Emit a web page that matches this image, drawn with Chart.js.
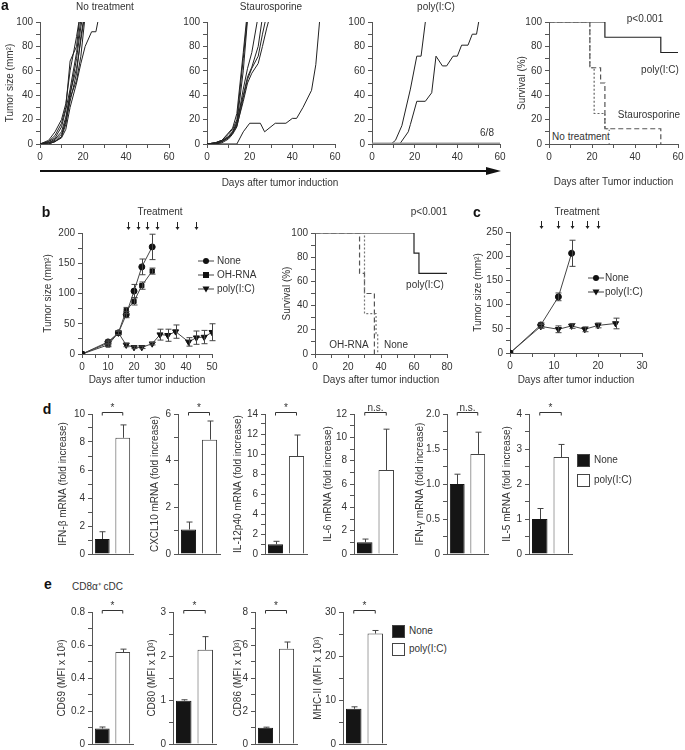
<!DOCTYPE html>
<html>
<head>
<meta charset="utf-8">
<script src="https://cdn.jsdelivr.net/npm/chart.js@4.4.1/dist/chart.umd.min.js"></script>
<style>
  body { margin: 0; background: #fff; width: 685px; height: 750px; position: relative; overflow: hidden;
         font-family: "Liberation Sans", Arial, sans-serif; color: #333; }
  canvas { position: absolute; }
  .t { position: absolute; font-size: 10px; white-space: nowrap; transform: translate(-50%, -50%); line-height: 1; z-index: 2; }
  .l { position: absolute; font-size: 10px; white-space: nowrap; transform: translateY(-50%); line-height: 1; z-index: 2; }
  .p { position: absolute; font-size: 14px; font-weight: bold; color: #111; transform: translate(-50%, -50%); line-height: 1; z-index: 2; }
  .sq { position: absolute; width: 11px; height: 11px; border: 1px solid #444; z-index: 2; }
  svg { position: absolute; z-index: 2; }
</style>
</head>
<body>
<script>
// ---------- panel a: individual tumour growth (mm2) ----------
const aNoTxDays = [0, 4, 7, 10, 12, 14, 17, 19, 21, 24, 26, 28];
const aNoTx1 = [0, 3, 10, 20, 33, 60, 88, 110];
const aNoTx2 = [0, 2, 7, 17, 30, 68, 80, 112];
const aNoTx3 = [0, 2, 5, 14, 28, 45, 75, 102];
const aNoTx4 = [0, 1, 4, 10, 22, 40, 70, 96, 115];
const aNoTx5 = [0, 1, 3, 8, 18, 35, 58, 88, 110];
const aNoTx6 = [0, 1, 2, 6, 16, 38, 52, 72, 105];
const aNoTx7 = [0, 0, 2, 5, 12, 30, 50, 66, 80, 92, 92, 110];
const aNoTx8 = [0, 0, 2, 6, 20, 42, 62, 85, 108];

const aStauroDays = [0, 4, 7, 10, 12, 14, 17, 19, 21, 24, 26, 28, 30];
const aStauro1 = [0, 1, 3, 8, 12, 20, 70, 105];
const aStauro2 = [0, 1, 2, 6, 10, 17, 60, 102];
const aStauro3 = [0, 1, 3, 9, 13, 25, 75, 110];
const aStauro4 = [0, 0, 2, 5, 9, 16, 45, 62, 75, 105];
const aStauro5 = [0, 1, 3, 6, 10, 18, 40, 55, 63, 80, 104];
const aStauro6 = [0, 0, 2, 5, 9, 15, 35, 50, 58, 66, 80, 95, 108];
const aStauro7 = [0, 0, 1, 4, 8, 14, 38, 53, 62, 72, 90, 106];
const aStauroSlowDays = [0, 14, 17, 20, 25, 27, 32, 37, 40, 42, 45, 49, 51, 53];
const aStauroSlow = [0, 0, 10, 17, 17, 10, 17, 17, 21, 21, 30, 44, 65, 105];

const aPolyDays1 = [0, 9, 11, 14, 18, 21, 23, 25];
const aPoly1 = [0, 0, 3, 15, 45, 72, 72, 100];
const aPolyDays2 = [0, 13, 17, 18, 21, 25, 28, 30, 33, 35, 38, 40, 42, 45, 47, 49, 50];
const aPoly2 = [0, 0, 10, 16, 35, 35, 42, 72, 64, 64, 72, 72, 81, 81, 90, 90, 100];
const aPolyFlatDays = [0, 60];
const aPolyFlat = [0, 0];

// ---------- panel a: survival (%) ----------
const survADaysPoly = [0, 26, 52, 60];
const survAPoly = [100, 87.5, 75, 75];
const survADaysStauro = [0, 19, 24, 26, 52];
const survAStauro = [100, 62.5, 50, 12.5, 0];
const survADaysNone = [0, 19, 21, 26, 28];
const survANone = [100, 62.5, 25, 12.5, 0];

// ---------- panel b ----------
const bDaysCtrl = [0, 10, 14, 17, 20, 23, 27];
const bNone = [0, 20, 35, 65, 104, 144, 177];
const bNoneErr = [0, 3, 3, 5, 11, 13, 21];
const bOHRNA = [0, 15, 35, 72, 87, 113, 137];
const bOHRNAErr = [0, 3, 3, 5, 6, 6, 5];
const bDaysPoly = [0, 10, 14, 17, 20, 23, 27, 30, 33, 36, 41, 44, 47, 50];
const bPoly = [0, 18, 35, 15, 11, 11, 17, 32, 31, 37, 20, 27, 28, 36];
const bPolyErr = [0, 3, 3, 3, 2, 2, 2, 9, 10, 11, 7, 11, 11, 14];
const bTreatDays = [17.5, 21.5, 25, 29, 36.5, 44];

const survBDaysPoly = [0, 60, 63, 80];
const survBPoly = [100, 83.3, 66.7, 66.7];
const survBDaysOHRNA = [0, 27, 30, 36];
const survBOHRNA = [100, 66.7, 50, 0];
const survBDaysNone = [0, 30, 37, 38];
const survBNone = [100, 33.3, 16.7, 0];

// ---------- panel c ----------
const cDaysNone = [0, 7, 11, 14];
const cNone = [0, 58, 116, 206];
const cNoneErr = [0, 4, 8, 27];
const cDaysPoly = [0, 7, 11, 14, 17, 20, 24];
const cPoly = [0, 55, 49, 56, 49, 57, 61];
const cPolyErr = [0, 4, 7, 5, 5, 5, 11];
const cTreatDays = [7, 11, 14, 17.5, 20];

// ---------- panel d (fold increase) ----------
const groups = ['None', 'poly(I:C)'];
const ifnb = [1.07, 8.3];      const ifnbErr = [0.52, 0.92];
const cxcl10 = [1.05, 4.9];    const cxcl10Err = [0.32, 0.8];
const il12p40 = [0.97, 9.8];   const il12p40Err = [0.3, 2.1];
const il6 = [1.0, 7.2];        const il6Err = [0.28, 3.5];
const ifng = [1.0, 1.43];      const ifngErr = [0.14, 0.31];
const il5 = [1.0, 2.77];       const il5Err = [0.3, 0.36];

// ---------- panel e (MFI x 10^3) ----------
const cd69 = [0.094, 0.557];   const cd69Err = [0.009, 0.018];
const cd80 = [0.985, 2.14];    const cd80Err = [0.02, 0.3];
const cd86 = [0.98, 5.78];     const cd86Err = [0.04, 0.4];
const mhc2 = [8.0, 25.1];      const mhc2Err = [0.45, 0.7];

// ================= drawing =================
const AXIS = '#555';
Chart.defaults.font.family = '"Liberation Sans", Arial, sans-serif';
Chart.defaults.font.size = 10;
Chart.defaults.color = '#333';
Chart.defaults.animation = false;
Chart.defaults.plugins.legend.display = false;
Chart.defaults.plugins.tooltip.enabled = false;

const xy = (days, vals) => vals.map((v, i) => ({x: days[i], y: v}));

const errorBars = {
  id: 'errorBars',
  afterDatasetsDraw(chart) {
    const ctx = chart.ctx;
    chart.data.datasets.forEach((ds, i) => {
      if (!ds.errors) return;
      const meta = chart.getDatasetMeta(i);
      const ys = chart.scales[meta.yAxisID];
      ctx.save();
      ctx.strokeStyle = ds.errColor || '#444';
      ctx.lineWidth = 1;
      meta.data.forEach((el, j) => {
        const e = ds.errors[j];
        if (!e) return;
        const raw = ds.data[j];
        const v = typeof raw === 'object' ? raw.y : raw;
        const x = Math.round(el.x) + 0.5;
        const yT = ys.getPixelForValue(v + e);
        const yB = ds.upOnly ? el.y : ys.getPixelForValue(v - e);
        ctx.beginPath();
        ctx.moveTo(x, yB); ctx.lineTo(x, yT);
        ctx.moveTo(x - 3, yT); ctx.lineTo(x + 3, yT);
        if (!ds.upOnly) { ctx.moveTo(x - 3, yB); ctx.lineTo(x + 3, yB); }
        ctx.stroke();
      });
      ctx.restore();
    });
  }
};

const sigBracket = {
  id: 'sig',
  afterDraw(chart, args, opts) {
    if (!opts.text) return;
    const ctx = chart.ctx;
    const meta = chart.getDatasetMeta(0);
    const x0 = meta.data[0].x, x1 = meta.data[1].x;
    const y = chart.chartArea.top - 1.5;
    ctx.save();
    ctx.strokeStyle = '#333'; ctx.lineWidth = 1;
    ctx.beginPath();
    ctx.moveTo(x0, y + 3); ctx.lineTo(x0, y); ctx.lineTo(x1, y); ctx.lineTo(x1, y + 3);
    ctx.stroke();
    ctx.fillStyle = '#333';
    ctx.font = '10px "Liberation Sans", Arial, sans-serif';
    ctx.textAlign = 'center'; ctx.textBaseline = 'alphabetic';
    ctx.fillText(opts.text, (x0 + x1) / 2, y - 1.5);
    ctx.restore();
  }
};

const treatArrows = {
  id: 'treat',
  afterDraw(chart, args, opts) {
    if (!opts.days) return;
    const ctx = chart.ctx, xs = chart.scales.x, top = chart.chartArea.top;
    ctx.save();
    ctx.strokeStyle = '#222'; ctx.fillStyle = '#222'; ctx.lineWidth = 1;
    opts.days.forEach(d => {
      const px = Math.round(xs.getPixelForValue(d)) + 0.5;
      ctx.beginPath(); ctx.moveTo(px, top - 11); ctx.lineTo(px, top - 5); ctx.stroke();
      ctx.beginPath(); ctx.moveTo(px - 2, top - 6); ctx.lineTo(px + 2, top - 6); ctx.lineTo(px, top - 3); ctx.closePath(); ctx.fill();
    });
    ctx.restore();
  }
};

function linAxis(min, max, step, every, title, fmt) {
  return {
    type: 'linear', min: min, max: max,
    grid: {display: true, drawOnChartArea: false, drawTicks: true, tickLength: 4, color: AXIS},
    border: {display: true, color: AXIS, width: 1},
    ticks: {
      stepSize: step, autoSkip: false, padding: 3, maxRotation: 0, color: '#333',
      callback: v => (Math.abs(v / every - Math.round(v / every)) < 1e-6
        ? (fmt ? fmt(v) : String(Math.round(v * 100) / 100)) : '')
    },
    title: title ? {display: true, text: title, padding: 0, color: '#333'} : {display: false}
  };
}

function barX() {
  return {
    type: 'category', offset: true,
    grid: {display: true, drawOnChartArea: false, drawTicks: false},
    border: {display: true, color: AXIS, width: 1},
    ticks: {display: false}
  };
}

function makeChart(box, config) {
  const padTop = box.padTop != null ? box.padTop : 12;
  const padRight = box.padRight != null ? box.padRight : 10;
  const left = box.yTitleX != null ? box.yTitleX - 6 : box.l - 30;
  const top = box.t - padTop;
  const bottom = box.xTitleY != null ? box.xTitleY + 6 : box.b + (box.xh != null ? box.xh : 22);
  const w = box.r + padRight - left, h = bottom - top;
  const cv = document.createElement('canvas');
  cv.width = w; cv.height = h;
  cv.style.left = left + 'px'; cv.style.top = top + 'px';
  cv.style.width = w + 'px'; cv.style.height = h + 'px';
  document.body.appendChild(cv);
  const o = config.options;
  o.responsive = false;
  o.devicePixelRatio = 1;
  o.layout = {padding: {top: padTop, right: padRight, left: 0, bottom: 0}};
  o.scales.x.afterFit = s => { s.height = bottom - box.b; };
  o.scales.y.afterFit = s => { s.width = box.l - left; };
  return new Chart(cv.getContext('2d'), config);
}

function thin(days, vals, color, width) {
  return {data: xy(days, vals), borderColor: color || '#222', borderWidth: width || 1,
          pointRadius: 0, tension: 0, fill: false};
}

function growth(box, yTitle, sets) {
  makeChart(box, {
    type: 'line',
    data: {datasets: sets},
    options: {scales: {x: linAxis(0, 60, 10, 20), y: linAxis(0, 100, 10, 20, yTitle)}}
  });
}

growth({l: 40, r: 169, t: 22, b: 144, yTitleX: 10}, 'Tumor size (mm²)',
  [aNoTx1, aNoTx2, aNoTx3, aNoTx4, aNoTx5, aNoTx6, aNoTx7, aNoTx8].map(m => thin(aNoTxDays, m)));
growth({l: 207, r: 335, t: 22, b: 144}, null,
  [aStauro1, aStauro2, aStauro3, aStauro4, aStauro5, aStauro6, aStauro7].map(m => thin(aStauroDays, m))
    .concat([thin(aStauroSlowDays, aStauroSlow)]));
growth({l: 372, r: 500, t: 22, b: 144}, null,
  [thin(aPolyFlatDays, aPolyFlat, '#999', 3), thin(aPolyDays1, aPoly1), thin(aPolyDays2, aPoly2)]);

function surv(days, vals, color, dash, width) {
  return {data: xy(days, vals), stepped: true, borderColor: color, borderDash: dash,
          borderWidth: width || 1.2, pointRadius: 0, fill: false};
}

makeChart({l: 549, r: 678, t: 22, b: 144, yTitleX: 522, xTitleY: 182}, {
  type: 'line',
  data: {datasets: [
    surv(survADaysNone, survANone, '#666', [2, 2]),
    surv(survADaysStauro, survAStauro, '#555', [5, 3]),
    surv(survADaysPoly, survAPoly, '#222', [])
  ]},
  options: {scales: {
    x: linAxis(0, 60, 10, 20, 'Days after Tumor induction'),
    y: linAxis(0, 100, 10, 20, 'Survival (%)')
  }}
});

function meanLine(days, vals, errs, style, rot, radius) {
  return {data: xy(days, vals), errors: errs, borderColor: '#444', borderWidth: 1, tension: 0,
          pointStyle: style, rotation: rot || 0, pointRadius: radius || 3,
          pointBackgroundColor: '#111', pointBorderColor: '#111', fill: false};
}

makeChart({l: 82, r: 212, t: 233, b: 354, yTitleX: 48, xTitleY: 380, padTop: 16}, {
  type: 'line',
  data: {datasets: [
    meanLine(bDaysPoly, bPoly, bPolyErr, 'triangle', 180, 3.5),
    meanLine(bDaysCtrl, bOHRNA, bOHRNAErr, 'rect', 0, 3),
    meanLine(bDaysCtrl, bNone, bNoneErr, 'circle', 0, 3)
  ]},
  options: {
    scales: {x: linAxis(0, 50, 5, 10, 'Days after tumor induction'),
             y: linAxis(0, 200, 25, 50, 'Tumor size (mm²)')},
    plugins: {treat: {days: bTreatDays}}
  },
  plugins: [errorBars, treatArrows]
});

makeChart({l: 315, r: 447, t: 233, b: 354, yTitleX: 287, xTitleY: 380}, {
  type: 'line',
  data: {datasets: [
    surv(survBDaysNone, survBNone, '#777', [2, 2]),
    surv(survBDaysOHRNA, survBOHRNA, '#555', [5, 3]),
    surv(survBDaysPoly, survBPoly, '#222', [])
  ]},
  options: {scales: {
    x: linAxis(0, 80, 10, 20, 'Days after tumor induction'),
    y: linAxis(0, 100, 10, 20, 'Survival (%)')
  }}
});

makeChart({l: 510, r: 642, t: 232, b: 353, yTitleX: 478, xTitleY: 380, padTop: 16}, {
  type: 'line',
  data: {datasets: [
    meanLine(cDaysPoly, cPoly, cPolyErr, 'triangle', 180, 3.5),
    meanLine(cDaysNone, cNone, cNoneErr, 'circle', 0, 3)
  ]},
  options: {
    scales: {x: linAxis(0, 30, 5, 10, 'Days after tumor induction'),
             y: linAxis(0, 250, 25, 50, 'Tumor size (mm²)')},
    plugins: {treat: {days: cTreatDays}}
  },
  plugins: [errorBars, treatArrows]
});

function barChart(box, yAxis, means, errs, sig) {
  box.padTop = 18; box.padRight = 2; box.xh = 10;
  makeChart(box, {
    type: 'bar',
    data: {labels: groups, datasets: [{
      data: means, errors: errs, upOnly: true, errColor: '#444',
      backgroundColor: ['#151515', '#ffffff'], borderColor: ['#151515', '#444'], borderWidth: 1,
      barPercentage: 0.72, categoryPercentage: 1
    }]},
    options: {scales: {x: barX(), y: yAxis}, plugins: {sig: {text: sig}}},
    plugins: [errorBars, sigBracket]
  });
}
const f1 = v => (v === 0 ? '0' : v.toFixed(1));

barChart({l: 92, r: 133, t: 414, b: 554, yTitleX: 63}, linAxis(0, 10, 1, 2, 'IFN-β mRNA (fold increase)'), ifnb, ifnbErr, '*');
barChart({l: 178, r: 220, t: 414, b: 554, yTitleX: 155}, linAxis(0, 6, 1, 2, 'CXCL10 mRNA (fold increase)'), cxcl10, cxcl10Err, '*');
barChart({l: 265, r: 307, t: 414, b: 554, yTitleX: 238}, linAxis(0, 14, 1, 2, 'IL-12p40 mRNA (fold increase)'), il12p40, il12p40Err, '*');
barChart({l: 354, r: 397, t: 414, b: 554, yTitleX: 328}, linAxis(0, 12, 1, 2, 'IL-6 mRNA (fold increase)'), il6, il6Err, 'n.s.');
barChart({l: 447, r: 488, t: 414, b: 554, yTitleX: 420}, linAxis(0, 2, 0.25, 0.5, 'IFN-γ mRNA (fold increase)', f1), ifng, ifngErr, 'n.s.');
barChart({l: 529, r: 572, t: 414, b: 554, yTitleX: 507}, linAxis(0, 4, 0.5, 1, 'IL-5 mRNA (fold increase)'), il5, il5Err, '*');

barChart({l: 92, r: 133, t: 612, b: 744, yTitleX: 62}, linAxis(0, 0.8, 0.1, 0.2, 'CD69 (MFI x 10³)'), cd69, cd69Err, '*');
barChart({l: 173, r: 216, t: 612, b: 744, yTitleX: 152}, linAxis(0, 3, 0.5, 1, 'CD80 (MFI x 10³)'), cd80, cd80Err, '*');
barChart({l: 255, r: 297, t: 612, b: 744, yTitleX: 238}, linAxis(0, 8, 1, 2, 'CD86 (MFI x 10³)'), cd86, cd86Err, '*');
barChart({l: 343, r: 386, t: 612, b: 744, yTitleX: 318}, linAxis(0, 30, 5, 10, 'MHC-II (MFI x 10³)'), mhc2, mhc2Err, '*');

// ---------- text and legends ----------
function txt(x, y, s, cls, extra) {
  const d = document.createElement('div');
  d.className = cls || 't';
  d.textContent = s;
  d.style.left = x + 'px'; d.style.top = y + 'px';
  if (extra) Object.assign(d.style, extra);
  document.body.appendChild(d);
}
txt(5, 5, 'a', 'p');
txt(105, 7, 'No treatment');
txt(271, 7, 'Staurosporine');
txt(436, 7, 'poly(I:C)');
txt(487, 133, '6/8');
txt(280, 183, 'Days after tumor induction');
txt(645, 19, 'p<0.001');
txt(660, 70, 'poly(I:C)');
txt(649, 115, 'Staurosporine');
txt(581, 137, 'No treatment', 't', {background: '#fff', padding: '1px 1px'});

// arrow under panel a
const shaft = document.createElement('div');
Object.assign(shaft.style, {position: 'absolute', left: '40px', top: '170px', width: '450px', height: '1.5px', background: '#111'});
document.body.appendChild(shaft);
const head = document.createElement('div');
Object.assign(head.style, {position: 'absolute', left: '486px', top: '166.5px', width: 0, height: 0,
  borderLeft: '15px solid #111', borderTop: '4.5px solid transparent', borderBottom: '4.5px solid transparent'});
document.body.appendChild(head);

txt(46, 212, 'b', 'p');
txt(160, 212, 'Treatment');
txt(429, 212, 'p<0.001');
txt(425, 285, 'poly(I:C)');
txt(349, 345, 'OH-RNA');
txt(396, 345, 'None');
txt(477, 212, 'c', 'p');
txt(577, 212, 'Treatment');

function legendMark(cx, cy, shape) {
  const ns = 'http://www.w3.org/2000/svg';
  const s = document.createElementNS(ns, 'svg');
  s.setAttribute('width', 16); s.setAttribute('height', 10);
  s.style.left = (cx - 8) + 'px'; s.style.top = (cy - 5) + 'px';
  const ln = document.createElementNS(ns, 'line');
  ln.setAttribute('x1', 0); ln.setAttribute('x2', 16); ln.setAttribute('y1', 5); ln.setAttribute('y2', 5);
  ln.setAttribute('stroke', '#444'); ln.setAttribute('stroke-width', 1);
  s.appendChild(ln);
  let m;
  if (shape === 'circle') {
    m = document.createElementNS(ns, 'circle');
    m.setAttribute('cx', 8); m.setAttribute('cy', 5); m.setAttribute('r', 3);
  } else if (shape === 'rect') {
    m = document.createElementNS(ns, 'rect');
    m.setAttribute('x', 5); m.setAttribute('y', 2); m.setAttribute('width', 6); m.setAttribute('height', 6);
  } else {
    m = document.createElementNS(ns, 'polygon');
    m.setAttribute('points', '4.5,2.5 11.5,2.5 8,8.5');
  }
  m.setAttribute('fill', '#111');
  s.appendChild(m);
  document.body.appendChild(s);
}
legendMark(206, 261, 'circle'); txt(217, 261, 'None', 'l');
legendMark(206, 275, 'rect'); txt(217, 275, 'OH-RNA', 'l');
legendMark(206, 289, 'tri'); txt(217, 289, 'poly(I:C)', 'l');
legendMark(596, 278, 'circle'); txt(605, 278, 'None', 'l');
legendMark(596, 292, 'tri'); txt(605, 292, 'poly(I:C)', 'l');

function square(x, y, fill) {
  const d = document.createElement('div');
  d.className = 'sq';
  d.style.left = x + 'px'; d.style.top = y + 'px'; d.style.background = fill;
  document.body.appendChild(d);
}
txt(47, 409, 'd', 'p');
square(577, 454, '#151515'); txt(594, 460, 'None', 'l');
square(577, 474, '#fff'); txt(594, 480, 'poly(I:C)', 'l');

txt(48, 584, 'e', 'p');
txt(72, 587, 'CD8α⁺ cDC', 'l');
square(392, 625, '#151515'); txt(409, 631, 'None', 'l');
square(392, 643, '#fff'); txt(409, 649, 'poly(I:C)', 'l');
</script>
</body>
</html>
